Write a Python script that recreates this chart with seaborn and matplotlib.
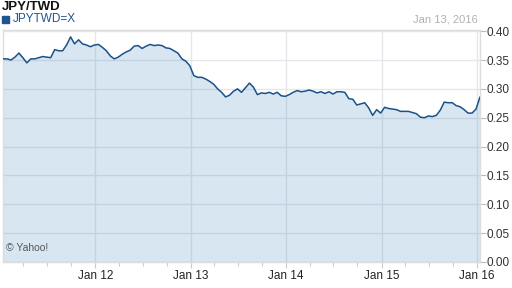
import matplotlib
matplotlib.use("Agg")
import matplotlib.pyplot as plt
import matplotlib.dates as mdates
import numpy as np
import pandas as pd
import seaborn as sns

# ---- data ----
title = "JPY/TWD"
series_name = "JPYTWD=X"
date_label = "Jan 13, 2016"
start_date = "2011-01-13"
end_date = "2016-01-13"
values = [
    0.352, 0.352, 0.350, 0.355, 0.362, 0.354, 0.345, 0.352, 0.352, 0.354,
    0.356, 0.355, 0.354, 0.368, 0.366, 0.366, 0.376, 0.390, 0.378, 0.385,
    0.378, 0.376, 0.373, 0.376, 0.377, 0.372, 0.366, 0.357, 0.352, 0.355,
    0.360, 0.364, 0.367, 0.374, 0.375, 0.370, 0.374, 0.377, 0.375, 0.376,
    0.375, 0.371, 0.370, 0.366, 0.362, 0.352, 0.348, 0.340, 0.323, 0.320,
    0.320, 0.317, 0.313, 0.308, 0.300, 0.294, 0.286, 0.289, 0.296, 0.300,
    0.294, 0.302, 0.310, 0.303, 0.290, 0.293, 0.292, 0.294, 0.291, 0.294,
    0.288, 0.287, 0.290, 0.294, 0.297, 0.295, 0.296, 0.298, 0.296, 0.293,
    0.295, 0.292, 0.295, 0.291, 0.295, 0.295, 0.294, 0.283, 0.282, 0.272,
    0.274, 0.276, 0.267, 0.254, 0.264, 0.258, 0.268, 0.266, 0.265, 0.264,
    0.261, 0.261, 0.261, 0.259, 0.257, 0.251, 0.250, 0.253, 0.252, 0.254,
    0.263, 0.277, 0.276, 0.276, 0.271, 0.269, 0.264, 0.258, 0.258, 0.265,
    0.286,
]
y_ticks = [0.00, 0.05, 0.10, 0.15, 0.20, 0.25, 0.30, 0.35, 0.40]
x_tick_dates = ["2012-01-01", "2013-01-01", "2014-01-01", "2015-01-01", "2016-01-01"]
x_tick_labels = ["Jan 12", "Jan 13", "Jan 14", "Jan 15", "Jan 16"]

dates = pd.date_range(start_date, end_date, periods=len(values))
df = pd.DataFrame({"date": dates, "value": values})

sns.set_theme(style="white")
plt.rcParams["font.family"] = ["Liberation Sans", "DejaVu Sans"]

line_color = "#1a5189"
fig = plt.figure(figsize=(5.12, 2.88), dpi=100)
ax = fig.add_axes([3 / 512, 1 - 262 / 288, (480 - 3) / 512, (262 - 30) / 288])

ax.fill_between(df["date"], df["value"], 0, color="#1c6cb0", alpha=0.17, lw=0, zorder=2)
sns.lineplot(data=df, x="date", y="value", ax=ax, color=line_color, lw=1.1, zorder=3)

ax.set_xlim(pd.Timestamp(start_date), pd.Timestamp(end_date))
ax.set_ylim(0, 0.402)
ax.set_xlabel("")
ax.set_ylabel("")

ax.yaxis.tick_right()
ax.set_yticks(y_ticks)
ax.set_yticklabels([f"{v:.2f}" for v in y_ticks])
ax.set_xticks(pd.to_datetime(x_tick_dates))
ax.set_xticklabels(x_tick_labels)
ax.xaxis.set_minor_locator(mdates.MonthLocator(bymonth=[4, 7, 10]))

ax.tick_params(axis="y", which="major", right=True, length=4, width=0.8,
               color="#bbbbbb", labelsize=8.5, labelcolor="#333333", pad=1)
ax.tick_params(axis="x", which="major", bottom=True, length=4, width=0.8,
               color="#cccccc", labelsize=8.5, labelcolor="#222222", pad=2)
ax.tick_params(axis="x", which="minor", bottom=True, length=3, width=0.8,
               color="#cccccc")

ax.grid(True, which="major", color="#e6e6ec", lw=1.0, zorder=1)
ax.set_axisbelow(True)
for side in ["left", "right", "top", "bottom"]:
    ax.spines[side].set_color("#dddddd")
    ax.spines[side].set_linewidth(1.0)

fig.text(2 / 512, 1 - 6.5 / 288, title, fontsize=9.5, fontweight="bold",
         color="#111111", va="center", ha="left")
fig.patches.append(plt.Rectangle((2 / 512, 1 - 23 / 288), 7 / 512, 7 / 288,
                                 transform=fig.transFigure, color="#1f5591", figure=fig))
fig.text(13 / 512, 1 - 19.5 / 288, series_name, fontsize=8.5, color="#1f5591",
         va="center", ha="left")
fig.text(478 / 512, 1 - 20 / 288, date_label, fontsize=8, color="#b0b0b0",
         va="center", ha="right")
ax.text(0.006, 0.04, "© Yahoo!", transform=ax.transAxes, fontsize=7.5,
        color="#555555", va="bottom", ha="left")

fig.savefig("out.png", dpi=100)
